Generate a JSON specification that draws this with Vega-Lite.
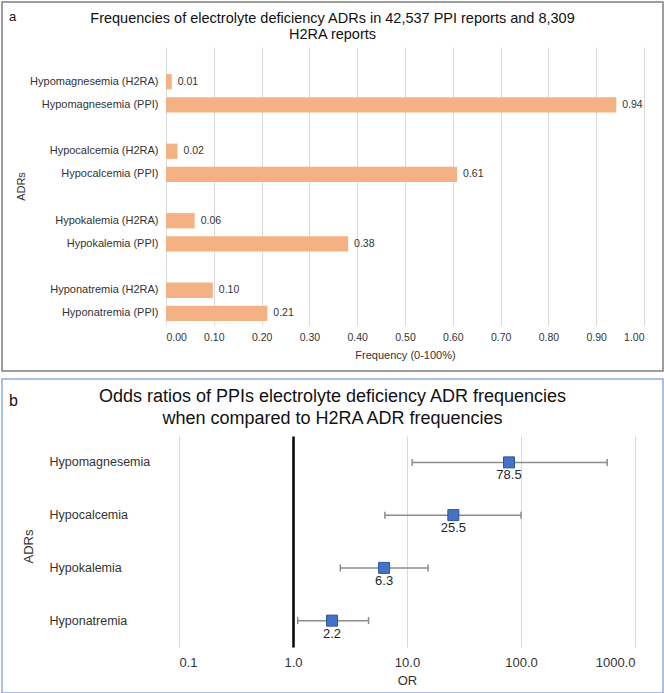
{
  "$schema": "https://vega.github.io/schema/vega-lite/v6.json",
  "padding": {"left": 1, "top": 1, "right": 2, "bottom": 2},
  "spacing": 6,
  "config": {
    "font": "Liberation Sans",
    "axis": {"gridColor": "#D9D9D9", "gridWidth": 1, "labelColor": "#333333", "titleColor": "#333333", "titleFontWeight": "normal", "labelFont": "Liberation Sans", "titleFont": "Liberation Sans"},
    "title": {"font": "Liberation Sans", "fontWeight": "normal", "color": "#111111"}
  },
  "vconcat": [
    {
      "width": 661,
      "height": 369,
      "view": {"stroke": "#7F7F7F", "strokeWidth": 1.5},
      "title": {"text": ["Frequencies of electrolyte deficiency ADRs in 42,537 PPI reports and 8,309", "H2RA reports"], "fontSize": 14.5, "lineHeight": 16, "anchor": "middle", "frame": "group", "offset": -40},
      "data": {"values": [
        {"adr": "Hypomagnesemia (H2RA)", "freq": 0.012},
        {"adr": "Hypomagnesemia (PPI)", "freq": 0.942},
        {"adr": "Hypocalcemia (H2RA)", "freq": 0.024},
        {"adr": "Hypocalcemia (PPI)", "freq": 0.609},
        {"adr": "Hypokalemia (H2RA)", "freq": 0.060},
        {"adr": "Hypokalemia (PPI)", "freq": 0.381},
        {"adr": "Hyponatremia (H2RA)", "freq": 0.098},
        {"adr": "Hyponatremia (PPI)", "freq": 0.212}
      ]},
      "encoding": {
        "y": {
          "field": "adr", "type": "nominal", "sort": null,
          "scale": {"domain": [" ", "Hypomagnesemia (H2RA)", "Hypomagnesemia (PPI)", "  ", "Hypocalcemia (H2RA)", "Hypocalcemia (PPI)", "   ", "Hypokalemia (H2RA)", "Hypokalemia (PPI)", "    ", "Hyponatremia (H2RA)", "Hyponatremia (PPI)"], "range": [45, 323], "paddingInner": 0.34, "paddingOuter": 0.17},
          "axis": {"orient": "left", "offset": -164, "domain": false, "ticks": false, "tickSize": 0, "grid": false, "labelPadding": 8, "labelFontSize": 11, "title": "ADRs", "titleFontSize": 11, "titlePadding": 3}
        }
      },
      "layer": [
        {
          "mark": {"type": "bar", "color": "#F4B183"},
          "encoding": {
            "x": {"field": "freq", "type": "quantitative",
              "scale": {"domain": [0, 1], "range": [164, 642], "nice": false},
              "axis": {"orient": "bottom", "offset": -46, "values": [0, 0.1, 0.2, 0.3, 0.4, 0.5, 0.6, 0.7, 0.8, 0.9, 1], "format": ".2f", "grid": false, "domain": false, "ticks": false, "tickSize": 0, "labelPadding": 7.5, "labelFontSize": 10.5, "title": "Frequency (0-100%)", "titleFontSize": 11, "titlePadding": 6.5}}
          }
        },
        {
          "mark": {"type": "text", "align": "left", "baseline": "middle", "dx": 6, "fontSize": 10.5, "color": "#333333"},
          "encoding": {
            "x": {"field": "freq", "type": "quantitative",
              "axis": {"orient": "top", "grid": true, "values": [0, 0.1, 0.2, 0.3, 0.4, 0.5, 0.6, 0.7, 0.8, 0.9, 1], "labels": false, "ticks": false, "tickSize": 0, "domain": false, "title": "a", "titleX": 10, "titleY": 14, "titleAlign": "center", "titleBaseline": "middle", "titleAngle": 0, "titleFontSize": 13, "titleColor": "#111111"}},
            "text": {"field": "freq", "format": ".2f"}
          }
        }
      ],
      "resolve": {"axis": {"x": "independent"}}
    },
    {
      "width": 661,
      "height": 314,
      "view": {"stroke": "#8EAADB", "strokeWidth": 1.5},
      "title": {"text": ["Odds ratios of PPIs electrolyte deficiency ADR frequencies", "when compared to H2RA ADR frequencies"], "fontSize": 18, "lineHeight": 22, "anchor": "middle", "frame": "group", "offset": -49},
      "data": {"values": [
        {"adr": "Hypomagnesemia", "or": 78.5, "lo": 11.1, "hi": 570},
        {"adr": "Hypocalcemia", "or": 25.5, "lo": 6.4, "hi": 100},
        {"adr": "Hypokalemia", "or": 6.3, "lo": 2.6, "hi": 15.3},
        {"adr": "Hyponatremia", "or": 2.2, "lo": 1.1, "hi": 4.6}
      ]},
      "encoding": {
        "y": {
          "field": "adr", "type": "nominal", "sort": null,
          "scale": {"domain": ["Hypomagnesemia", "Hypocalcemia", "Hypokalemia", "Hyponatremia"], "range": [57, 268], "paddingInner": 0, "paddingOuter": 0},
          "axis": {"orient": "left", "offset": -291, "domain": true, "domainColor": "#000000", "domainWidth": 2.5, "ticks": false, "tickSize": 0, "grid": false, "labelAlign": "left", "labelPadding": 244, "labelFontSize": 12.5, "title": "ADRs", "titleFontSize": 13, "titleX": -265, "titleY": 167, "titleAngle": -90, "titleAlign": "center", "titleBaseline": "middle"}
        }
      },
      "layer": [
        {
          "mark": {"type": "rule", "color": "#8C8C8C", "strokeWidth": 1.5},
          "encoding": {
            "x": {"field": "lo", "type": "quantitative",
              "scale": {"type": "log", "domain": [0.1, 1000], "range": [177, 633], "nice": false},
              "axis": {"orient": "bottom", "offset": -46, "values": [0.1, 1, 10, 100, 1000], "format": ".1f", "grid": false, "domain": false, "ticks": false, "tickSize": 0, "labelPadding": 9.5, "labelFontSize": 13, "title": "OR", "titleFontSize": 13, "titlePadding": 5}},
            "x2": {"field": "hi"}
          }
        },
        {
          "mark": {"type": "tick", "orient": "vertical", "size": 7, "thickness": 1.5, "color": "#8C8C8C", "opacity": 1},
          "encoding": {"x": {"field": "lo", "type": "quantitative", "axis": null}}
        },
        {
          "mark": {"type": "tick", "orient": "vertical", "size": 7, "thickness": 1.5, "color": "#8C8C8C", "opacity": 1},
          "encoding": {"x": {"field": "hi", "type": "quantitative", "axis": null}}
        },
        {
          "mark": {"type": "square", "size": 121, "filled": true, "opacity": 1, "color": "#4472C4", "stroke": "#2F5597", "strokeWidth": 1},
          "encoding": {
            "x": {"field": "or", "type": "quantitative",
              "axis": {"orient": "top", "grid": true, "values": [0.1, 1, 10, 100, 1000], "labels": false, "ticks": false, "tickSize": 0, "domain": false, "title": "b", "titleX": 11, "titleY": 21, "titleAlign": "center", "titleBaseline": "middle", "titleAngle": 0, "titleFontSize": 16, "titleColor": "#111111"}}
          }
        },
        {
          "mark": {"type": "text", "dy": 13, "fontSize": 13, "baseline": "middle", "color": "#262626"},
          "encoding": {
            "x": {"field": "or", "type": "quantitative", "axis": null},
            "text": {"field": "or", "format": ".1f"}
          }
        }
      ],
      "resolve": {"axis": {"x": "independent"}}
    }
  ]
}
